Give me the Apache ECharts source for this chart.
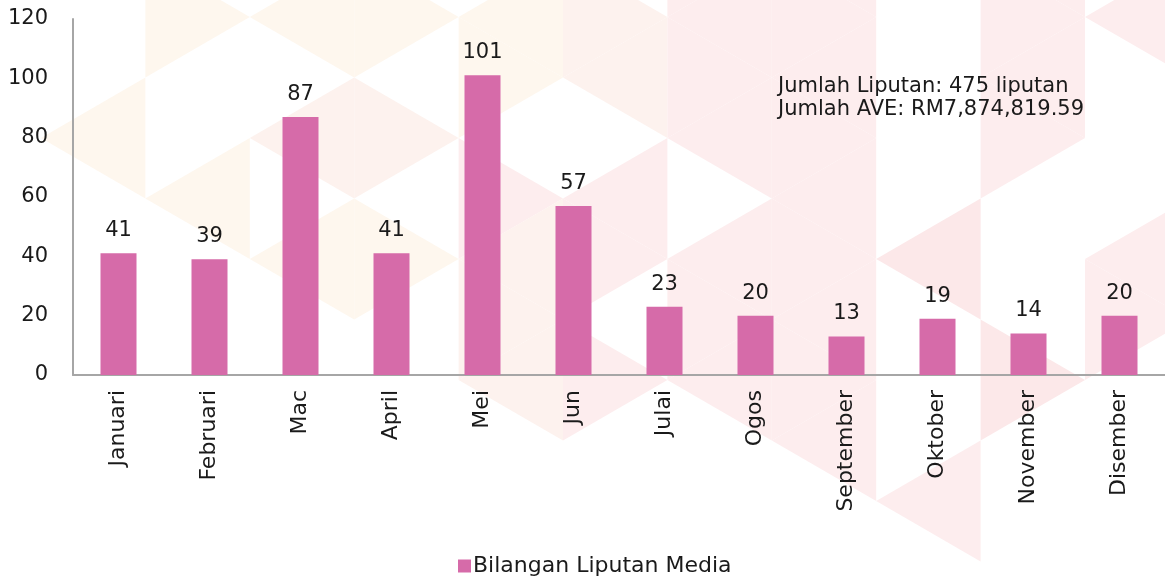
<!DOCTYPE html>
<html>
<head>
<meta charset="utf-8">
<script src="https://cdn.jsdelivr.net/npm/echarts@6/dist/echarts.min.js"></script>
<style>
  html, body { margin: 0; padding: 0; background: #ffffff; }
  #chart { width: 1165px; height: 578px; }
</style>
</head>
<body>
<div id="chart"></div>
<script>
// data
const months = ['Januari', 'Februari', 'Mac', 'April', 'Mei', 'Jun',
                'Julai', 'Ogos', 'September', 'Oktober', 'November', 'Disember'];
const coverage = [41, 39, 87, 41, 101, 57, 23, 20, 13, 19, 14, 20];
const seriesName = 'Bilangan Liputan Media';
const noteLines = ['Jumlah Liputan: 475 liputan', 'Jumlah AVE: RM7,874,819.59'];

const FONT = 'DejaVu Sans';
const PINK = '#d66ba9';
const INK = '#1a1a1a';

// faint triangle pattern behind the chart (decoration only)
const TRI_W = 104.4, TRI_H = 121, X0 = 41;
const tones = { p: '#fef7ee', q: '#fdf2ee', k: '#fdedee', K: '#fce8e9' };
// [column, row, pointing, tone]
const bgCells = [
    [0, 0, 'L', 'p'], [1, -1, 'R', 'p'], [1, 1, 'L', 'p'],
    [2, -1, 'L', 'p'], [2, 0, 'L', 'q'], [2, 1, 'L', 'p'],
    [3, -1, 'R', 'p'], [3, 0, 'R', 'q'], [3, 1, 'R', 'p'],
    [4, -1, 'L', 'p'], [4, 0, 'R', 'p'], [4, 1, 'R', 'k'], [4, 1, 'L', 'q'],
    [4, 2, 'R', 'q'], [4, 2, 'L', 'q'],
    [5, -1, 'R', 'q'], [5, 0, 'L', 'q'], [5, 1, 'R', 'k'], [5, 1, 'L', 'k'], [5, 2, 'R', 'k'],
    [6, -1, 'R', 'k'], [6, -1, 'L', 'k'], [6, 0, 'R', 'k'], [6, 0, 'L', 'k'], [6, 1, 'L', 'k'],
    [6, 2, 'R', 'k'], [6, 2, 'L', 'k'],
    [7, -1, 'R', 'k'], [7, 0, 'R', 'k'], [7, 1, 'R', 'k'], [7, 2, 'R', 'k'],
    [7, -1, 'L', 'k'], [7, 0, 'L', 'k'], [7, 1, 'L', 'k'], [7, 2, 'L', 'k'], [7, 3, 'L', 'k'],
    [8, 1, 'L', 'K'], [8, 3, 'L', 'k'],
    [9, -1, 'R', 'k'], [9, 0, 'R', 'k'], [9, -1, 'L', 'k'], [9, 0, 'L', 'k'], [9, 2, 'R', 'K'],
    [10, -1, 'L', 'k'], [10, 1, 'L', 'k'], [10, 2, 'R', 'k']
];

function colX(c) { return X0 + TRI_W * c; }
function vY(c, r) { return (c % 2 === 0 ? 17 : 77.5) + TRI_H * r; }

function triPoints(c, r, dir) {
    if (dir === 'R') {
        const a = vY(c, r), b = vY(c, r + 1);
        return [[colX(c), a], [colX(c), b], [colX(c + 1), (a + b) / 2]];
    }
    const a = vY(c + 1, r), b = vY(c + 1, r + 1);
    return [[colX(c + 1), a], [colX(c + 1), b], [colX(c), (a + b) / 2]];
}

const bgGraphics = bgCells.map(function (cell) {
    return {
        type: 'polygon',
        z: -10,
        silent: true,
        shape: { points: triPoints(cell[0], cell[1], cell[2]) },
        style: { fill: tones[cell[3]] }
    };
});

const chart = echarts.init(document.getElementById('chart'), null, { renderer: 'canvas' });

const option = {
    backgroundColor: '#ffffff',
    animation: false,
    textStyle: { fontFamily: FONT },
    grid: {
        left: 73,
        right: 0,
        top: 19,
        bottom: 203
    },
    legend: {
        data: [seriesName],
        left: 453,
        top: 550,
        itemWidth: 13,
        itemHeight: 13,
        itemGap: 4,
        icon: 'rect',
        textStyle: { fontFamily: FONT, fontSize: 22, color: INK, padding: [0, 0, 0, -3] }
    },
    graphic: bgGraphics.concat([{
        type: 'text',
        left: 778,
        top: 75,
        z: 10,
        style: {
            text: noteLines.join('\n'),
            font: '21px "' + FONT + '"',
            lineHeight: 23,
            fill: INK
        }
    }]),
    xAxis: {
        type: 'category',
        data: months,
        axisLine: { lineStyle: { color: '#a6a6a6', width: 2 } },
        axisTick: { show: false },
        axisLabel: {
            rotate: 90,
            margin: 15,
            fontSize: 22,
            color: INK,
            fontFamily: FONT,
            interval: 0
        }
    },
    yAxis: {
        type: 'value',
        min: 0,
        max: 120,
        interval: 20,
        axisLine: { show: true, lineStyle: { color: '#a6a6a6', width: 2 } },
        axisTick: { show: false },
        splitLine: { show: false },
        axisLabel: {
            margin: 25,
            fontSize: 21,
            color: INK,
            fontFamily: FONT
        }
    },
    series: [{
        name: seriesName,
        type: 'bar',
        data: coverage,
        barWidth: 36,
        itemStyle: { color: PINK },
        label: {
            show: true,
            position: 'top',
            distance: 12,
            fontSize: 21,
            color: INK,
            fontFamily: FONT
        }
    }]
};

chart.setOption(option);
</script>
</body>
</html>
